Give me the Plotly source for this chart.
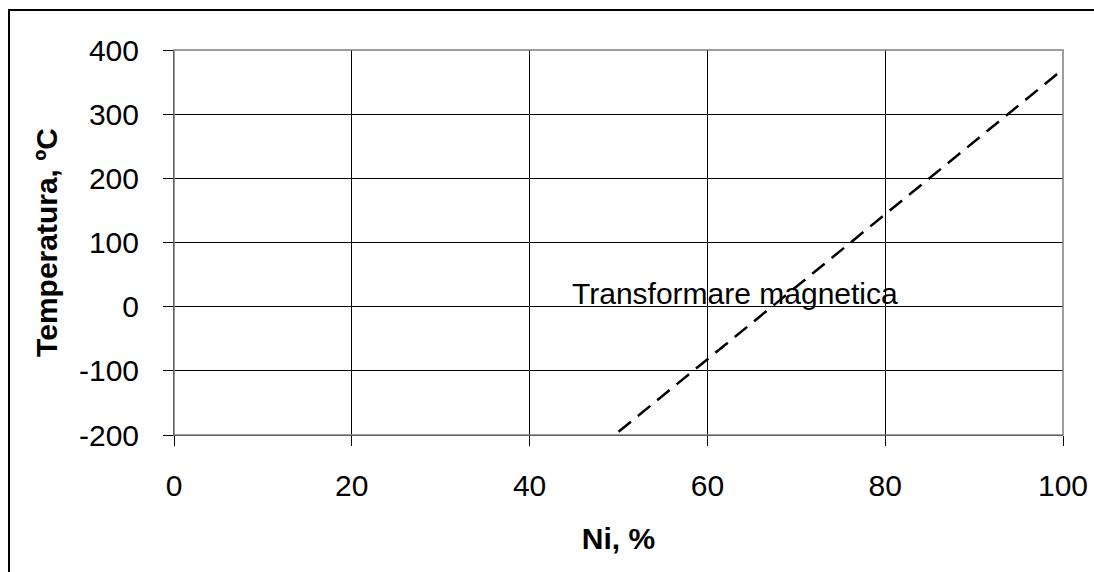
import plotly.graph_objects as go

ni = [50, 100]
temp = [-195, 370]
x_ticks = [0, 20, 40, 60, 80, 100]
x_labels = ["0", "20", "40", "60", "80", "100"]
y_ticks = [-200, -100, 0, 100, 200, 300, 400]
y_labels = ["-200", "-100", "0", "100", "200", "300", "400"]
label_text = "Transformare magnetica"
label_x = 44.5
label_y = 20

FAM = "Liberation Sans, Arial"
font = dict(family=FAM, size=30, color="black")

fig = go.Figure()
fig.add_trace(go.Scatter(x=ni, y=temp, mode="lines",
                         line=dict(color="black", width=2.5, dash="16px,9px"),
                         showlegend=False, hoverinfo="skip"))

fig.add_annotation(x=label_x, y=label_y, text=label_text, showarrow=False,
                   xanchor="left", yanchor="middle", font=font)

fig.update_layout(
    width=1094, height=572,
    margin=dict(l=174, r=31, t=50, b=137),
    paper_bgcolor="white", plot_bgcolor="white",
    font=font,
    xaxis=dict(range=[0, 100], tickvals=x_ticks, ticktext=x_labels, showgrid=True,
               gridcolor="black", gridwidth=1, zeroline=False, showline=True,
               linecolor="black", ticks="outside", ticklen=10, tickcolor="black",
               ticklabelstandoff=14, tickfont=font, automargin=False,
               title=dict(text="<b>Ni, %</b>", font=font, standoff=26)),
    yaxis=dict(range=[-200, 400], tickvals=y_ticks, ticktext=y_labels, showgrid=True,
               gridcolor="black", gridwidth=1, zeroline=False, showline=True,
               linecolor="black", ticks="outside", ticklen=10, tickcolor="black",
               ticklabelstandoff=18, tickfont=font, automargin=False,
               title=dict(text="<b>Temperatura, ºC</b>", font=font, standoff=12)),
    shapes=[
        dict(type="rect", xref="paper", yref="paper", x0=0, x1=1, y0=0, y1=1,
             line=dict(color="#808080", width=1.5), layer="above"),
        dict(type="rect", xref="paper", yref="paper", x0=(9-174)/889, x1=1.5,
             y0=-1, y1=(572-10-137)/385,
             line=dict(color="black", width=2), layer="below"),
    ],
)

fig.write_html("out.html", config={"displayModeBar": False})
